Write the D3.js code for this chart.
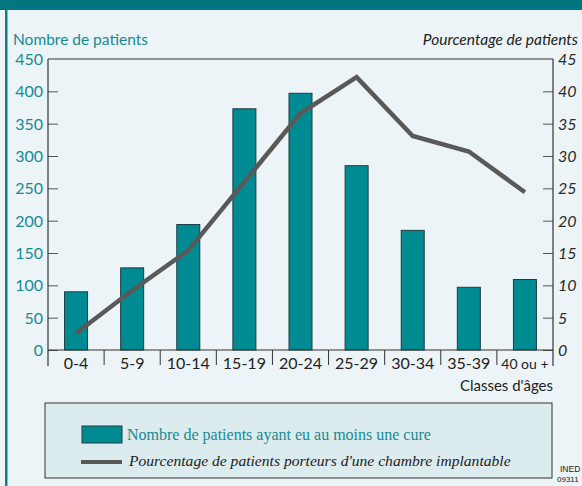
<!DOCTYPE html>
<html>
<head>
<meta charset="utf-8">
<script src="https://cdn.jsdelivr.net/npm/d3@7"></script>
<style>
  body { margin: 0; background: #ecf4f7; }
  svg { display: block; }
  .lab { font-family: "Lato", "DejaVu Sans", sans-serif; }
</style>
</head>
<body>
<svg id="chart"></svg>
<script>
// age classes
var categories = ["0-4", "5-9", "10-14", "15-19", "20-24", "25-29", "30-34", "35-39", "40 ou +"];
// number of patients with at least one cure
var patients = [90, 127, 194, 373, 397, 285, 185, 97, 109];
// percentage of patients with an implantable port
var percent = [2.6, 9.2, 15.4, 26, 36.6, 42.2, 33.1, 30.7, 24.4];
var leftTicks = [0, 50, 100, 150, 200, 250, 300, 350, 400, 450];
var rightTicks = [0, 5, 10, 15, 20, 25, 30, 35, 40, 45];

var width = 582, height = 486;
var margin = {left: 48, right: 29, top: 59, bottom: 136};
var teal = "#008b93", tealText = "#168a92";

var svg = d3.select("#chart").attr("width", width).attr("height", height);

// frame: top band and left border
svg.append("rect").attr("x", 0).attr("y", 0).attr("width", width).attr("height", height).attr("fill", "#ecf4f7");
svg.append("rect").attr("x", 0).attr("y", 0).attr("width", width).attr("height", 10).attr("fill", "#007780");
svg.append("rect").attr("x", 5).attr("y", 10).attr("width", 2.5).attr("height", height - 10).attr("fill", "#0f8088");

var x = d3.scaleBand().domain(categories).range([margin.left, width - margin.right]).padding(0);
var yL = d3.scaleLinear().domain([0, 450]).range([height - margin.bottom, margin.top]);
var yR = d3.scaleLinear().domain([0, 45]).range([height - margin.bottom, margin.top]);

var y0 = yL(0);

// plot box top line
svg.append("line").attr("x1", margin.left).attr("x2", width - margin.right)
  .attr("y1", margin.top).attr("y2", margin.top).attr("stroke", "#333").attr("stroke-width", 1);

// bars
var bw = x.bandwidth() * 0.41;
svg.selectAll(".bar").data(patients).enter().append("rect")
  .attr("class", "bar")
  .attr("x", function(d, i) { return x(categories[i]) + (x.bandwidth() - bw) / 2; })
  .attr("y", function(d) { return yL(d); })
  .attr("width", bw)
  .attr("height", function(d) { return y0 - yL(d); })
  .attr("fill", teal)
  .attr("stroke", "#1e3c40")
  .attr("stroke-width", 1);

// line
var line = d3.line()
  .x(function(d, i) { return x(categories[i]) + x.bandwidth() / 2; })
  .y(function(d) { return yR(d); });
svg.append("path").datum(percent).attr("d", line)
  .attr("fill", "none").attr("stroke", "#595959").attr("stroke-width", 4.5)
  .attr("stroke-linejoin", "miter");

// left axis
var gL = svg.append("g").attr("transform", "translate(" + margin.left + ",0)")
  .call(d3.axisLeft(yL).tickValues(leftTicks).tickSizeInner(-10).tickSizeOuter(0).tickPadding(6));
gL.select(".domain").remove();
gL.selectAll(".tick line").attr("stroke", "#555");
gL.selectAll(".tick text").attr("class", "lab").attr("fill", tealText).style("font-size", "16px")
  .attr("x", -5).attr("dy", "0.34em");
gL.selectAll(".tick").filter(function(d) { return d === 450; }).select("line").remove();

// right axis
var gR = svg.append("g").attr("transform", "translate(" + (width - margin.right) + ",0)")
  .call(d3.axisRight(yR).tickValues(rightTicks).tickSizeInner(-10).tickSizeOuter(0));
gR.select(".domain").remove();
gR.selectAll(".tick line").attr("stroke", "#555");
gR.selectAll(".tick text").attr("class", "lab").attr("fill", "#2a2a2a").style("font-size", "16px")
  .style("font-style", "italic").attr("x", 5).attr("dy", "0.34em");
gR.selectAll(".tick").filter(function(d) { return d === 45; }).select("line").remove();

// vertical axis lines (extend below baseline)
svg.append("line").attr("x1", margin.left).attr("x2", margin.left).attr("y1", margin.top).attr("y2", y0 + 16)
  .attr("stroke", "#333").attr("stroke-width", 1.2);
svg.append("line").attr("x1", width - margin.right).attr("x2", width - margin.right).attr("y1", margin.top).attr("y2", y0 + 16)
  .attr("stroke", "#333").attr("stroke-width", 1.2);

// x axis baseline and separators
svg.append("line").attr("x1", margin.left).attr("x2", width - margin.right).attr("y1", y0).attr("y2", y0)
  .attr("stroke", "#333").attr("stroke-width", 1.2);
svg.selectAll(".sep").data(categories.slice(1)).enter().append("line")
  .attr("x1", function(d) { return x(d); }).attr("x2", function(d) { return x(d); })
  .attr("y1", y0).attr("y2", y0 + 15).attr("stroke", "#333").attr("stroke-width", 1);
svg.selectAll(".cat").data(categories).enter().append("text")
  .attr("class", "lab")
  .attr("x", function(d) { return x(d) + x.bandwidth() / 2; })
  .attr("y", y0 + 19)
  .attr("text-anchor", "middle")
  .attr("fill", "#222")
  .style("font-size", function(d) { return d === "40 ou +" ? "14px" : "16px"; })
  .text(function(d) { return d; });

svg.append("text").attr("class", "lab").attr("x", 553).attr("y", 391).attr("text-anchor", "end")
  .attr("fill", "#222").style("font-size", "15px").text("Classes d'âges");

// axis titles
svg.append("text").attr("class", "lab").attr("x", 13).attr("y", 45)
  .attr("fill", tealText).style("font-size", "15.5px").text("Nombre de patients");
svg.append("text").attr("class", "lab").attr("x", 578).attr("y", 45).attr("text-anchor", "end")
  .attr("fill", "#222").style("font-size", "15.5px").style("font-style", "italic").text("Pourcentage de patients");

// legend
var lg = svg.append("g");
lg.append("rect").attr("x", 45).attr("y", 403).attr("width", 507).attr("height", 75)
  .attr("fill", "#dcebee").attr("stroke", "#333").attr("stroke-width", 1);
lg.append("rect").attr("x", 82).attr("y", 426).attr("width", 40).attr("height", 17)
  .attr("fill", teal).attr("stroke", "#1e3c40");
lg.append("text").attr("x", 127).attr("y", 440).attr("fill", tealText)
  .style("font-family", "'Liberation Serif', 'DejaVu Serif', serif").style("font-size", "16px")
  .text("Nombre de patients ayant eu au moins une cure");
lg.append("line").attr("x1", 81).attr("x2", 122).attr("y1", 462).attr("y2", 462)
  .attr("stroke", "#595959").attr("stroke-width", 4);
lg.append("text").attr("x", 129).attr("y", 466).attr("fill", "#222")
  .style("font-family", "'Liberation Serif', 'DejaVu Serif', serif").style("font-size", "15.6px").style("font-style", "italic")
  .text("Pourcentage de patients porteurs d'une chambre implantable");

// source note
svg.append("text").attr("x", 560).attr("y", 472).attr("fill", "#222")
  .style("font-family", "'Liberation Sans', sans-serif").style("font-size", "8.5px").text("INED");
svg.append("text").attr("x", 557).attr("y", 482).attr("fill", "#222")
  .style("font-family", "'Liberation Sans', sans-serif").style("font-size", "8px").text("09311");
</script>
</body>
</html>
